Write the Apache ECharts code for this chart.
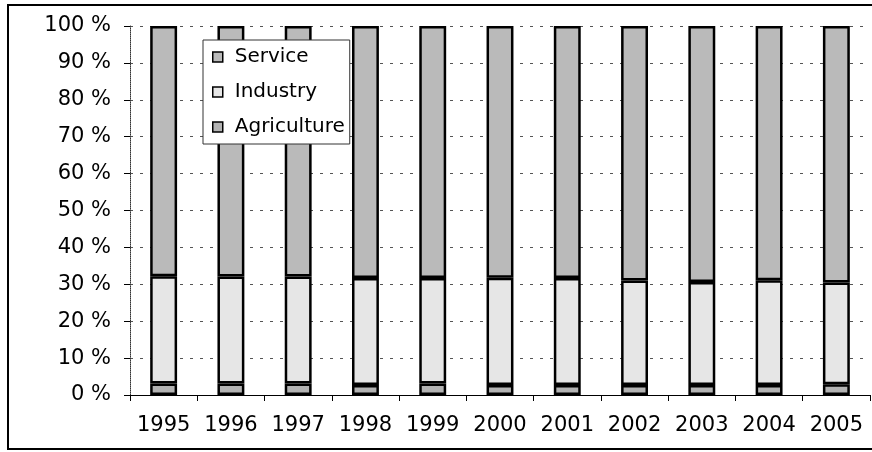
<!DOCTYPE html>
<html>
<head>
<meta charset="utf-8">
<script src="https://cdn.jsdelivr.net/npm/echarts@6/dist/echarts.min.js"></script>
<style>
  html, body { margin: 0; padding: 0; background: #fff; }
  #chart { width: 872px; height: 452px; }
</style>
</head>
<body>
<div id="chart"></div>
<script>
// years on the x axis
const years = ["1995", "1996", "1997", "1998", "1999", "2000", "2001", "2002", "2003", "2004", "2005"];
// shares in percent
const agriculture = [3.1, 3.1, 3.1, 2.7, 3.1, 2.7, 2.7, 2.7, 2.7, 2.7, 2.9];
const industry = [29.1, 29.0, 29.0, 29.0, 28.6, 29.1, 29.0, 28.3, 27.9, 28.4, 27.6];
const service = [67.8, 67.9, 67.9, 68.3, 68.3, 68.2, 68.3, 69.0, 69.4, 68.9, 69.5];

const chart = echarts.init(document.getElementById("chart"));

const barBorder = { borderColor: "#000", borderWidth: 2.5 };

chart.setOption({
  animation: false,
  textStyle: { fontFamily: "DejaVu Sans, sans-serif" },
  graphic: [
    {
      type: "rect",
      shape: { x: 8, y: 5, width: 880, height: 444 },
      style: { fill: "none", stroke: "#000", lineWidth: 2 },
      silent: true
    }
  ],
  grid: { left: 130, right: 2, top: 26, bottom: 57 },
  legend: {
    orient: "vertical",
    left: 203,
    top: 40,
    data: ["Service", "Industry", "Agriculture"],
    backgroundColor: "#fff",
    borderColor: "#333",
    borderWidth: 1,
    padding: [7, 5, 7, 9],
    itemGap: 15,
    itemWidth: 10,
    itemHeight: 10,
    icon: "rect",
    itemStyle: { borderColor: "#000", borderWidth: 1.5 },
    textStyle: { fontSize: 20, color: "#000", padding: [0, 0, 0, 7] }
  },
  xAxis: {
    type: "category",
    data: years,
    axisLine: { lineStyle: { color: "#000", width: 1 } },
    axisTick: { show: true, interval: 0, length: 6, lineStyle: { color: "#000" } },
    axisLabel: { color: "#000", fontSize: 21, margin: 20, interval: 0, hideOverlap: false }
  },
  yAxis: {
    type: "value",
    min: 0,
    max: 100,
    interval: 10,
    axisLine: { show: true, lineStyle: { color: "#333", type: "dotted" } },
    axisTick: { show: true, length: 6, lineStyle: { color: "#000" } },
    axisLabel: { color: "#000", fontSize: 21, margin: 19, formatter: "{value} %" },
    splitLine: { lineStyle: { color: "#555", type: [3, 7], width: 1 } }
  },
  series: [
    {
      name: "Agriculture",
      type: "bar",
      stack: "total",
      barWidth: "40%",
      data: agriculture,
      itemStyle: Object.assign({ color: "#b3b3b3" }, barBorder)
    },
    {
      name: "Industry",
      type: "bar",
      stack: "total",
      data: industry,
      itemStyle: Object.assign({ color: "#e6e6e6" }, barBorder)
    },
    {
      name: "Service",
      type: "bar",
      stack: "total",
      data: service,
      itemStyle: Object.assign({ color: "#bababa" }, barBorder)
    }
  ]
});
</script>
</body>
</html>
